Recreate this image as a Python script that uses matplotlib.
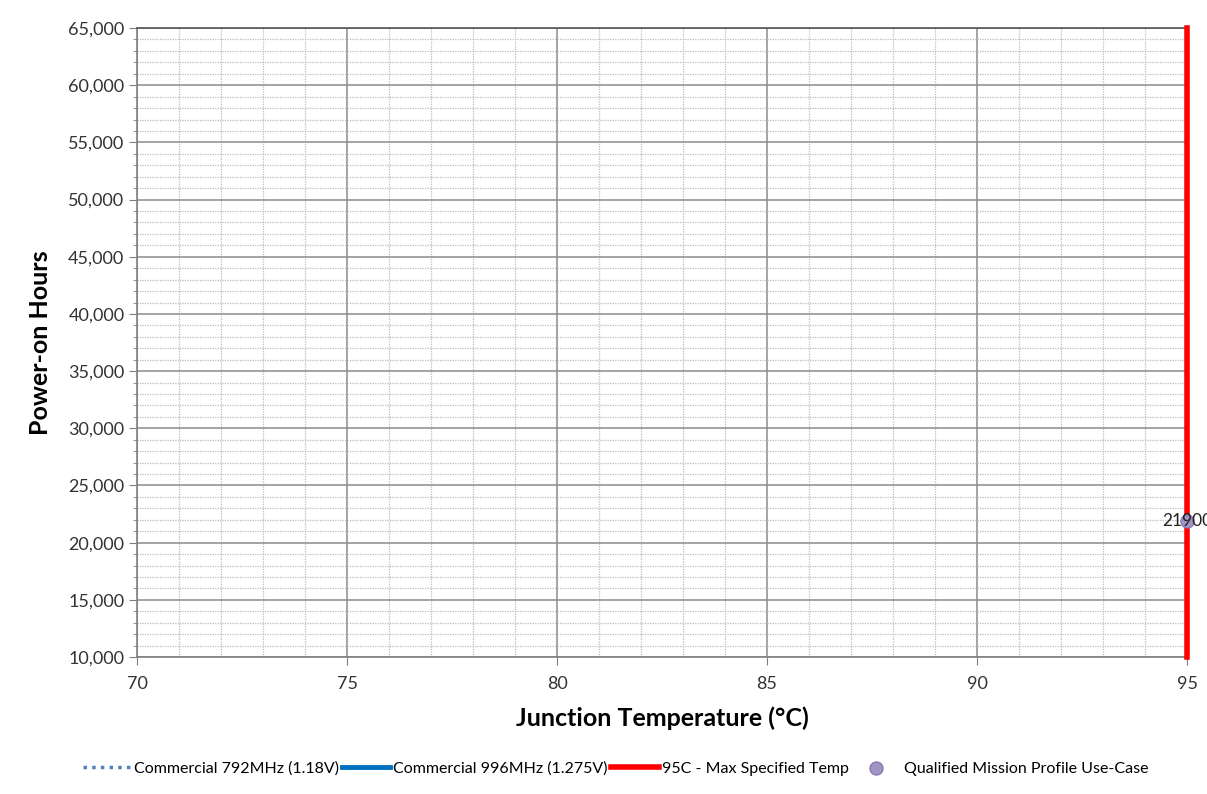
import matplotlib
matplotlib.use("Agg")
import matplotlib.pyplot as plt
from matplotlib.ticker import MultipleLocator, FuncFormatter

plt.rcParams['font.family'] = ['Lato', 'DejaVu Sans']

# data
temp_792 = []
hours_792 = []
temp_996 = []
hours_996 = []
max_temp = 95
max_temp_hours = [10000, 65000]
mission_temp = [95]
mission_hours = [21900]
mission_labels = ["21900"]

fig = plt.figure(figsize=(12.07, 7.94), dpi=100)
ax = fig.add_axes([0.1135, 0.1725, 0.870, 0.7922])

ax.plot(temp_792, hours_792, linestyle=(0, (1, 1.5)), color='#4F81BD', lw=2.5,
        label='Commercial 792MHz (1.18V)')
ax.plot(temp_996, hours_996, color='#0070C0', lw=3.5,
        label='Commercial 996MHz (1.275V)')
ax.plot([max_temp, max_temp], max_temp_hours, color='#FF0000', lw=4, clip_on=False,
        zorder=4, label='95C - Max Specified Temp')
ax.scatter(mission_temp, mission_hours, s=90, color='#A094C4', edgecolor='#7F72A8',
           lw=0.8, zorder=5, clip_on=False, label='Qualified Mission Profile Use-Case')
for x, y, t in zip(mission_temp, mission_hours, mission_labels):
    ax.text(x, y, t, ha='center', va='center', fontsize=12.5, color='#222222',
            zorder=6, clip_on=False)

ax.set_xlim(70, 95)
ax.set_ylim(10000, 65000)
ax.xaxis.set_major_locator(MultipleLocator(5))
ax.xaxis.set_minor_locator(MultipleLocator(1))
ax.yaxis.set_major_locator(MultipleLocator(5000))
ax.yaxis.set_minor_locator(MultipleLocator(1000))
ax.yaxis.set_major_formatter(FuncFormatter(lambda v, p: f"{int(v):,}"))

ax.grid(which='major', color='#8C8C8C', lw=1.1, ls='-')
ax.grid(which='minor', color='#BDBDBD', lw=0.9, ls=(0, (1, 1)))
ax.set_axisbelow(True)

for s in ['left', 'bottom', 'top', 'right']:
    ax.spines[s].set_color('#808080')
    ax.spines[s].set_linewidth(1.2)
ax.spines['top'].set_color('#555555')

ax.tick_params(which='major', direction='out', length=6, color='#808080',
               labelsize=13, labelcolor='#333333', pad=3)
ax.tick_params(which='minor', direction='out', length=3, color='#808080')
ax.tick_params(axis='x', which='minor', length=0)
ax.tick_params(axis='x', which='major', pad=8)

ax.set_xlabel('Junction Temperature (°C)', fontsize=18, fontweight='bold', labelpad=10)
ax.set_ylabel('Power-on Hours', fontsize=18, fontweight='bold', labelpad=12)

fig.legend(loc='lower center', bbox_to_anchor=(0.51, 0.005), ncol=4, frameon=False,
           fontsize=11.5, handlelength=3.0, columnspacing=0.2, handletextpad=0.2)

fig.savefig('out.png', dpi=100)
